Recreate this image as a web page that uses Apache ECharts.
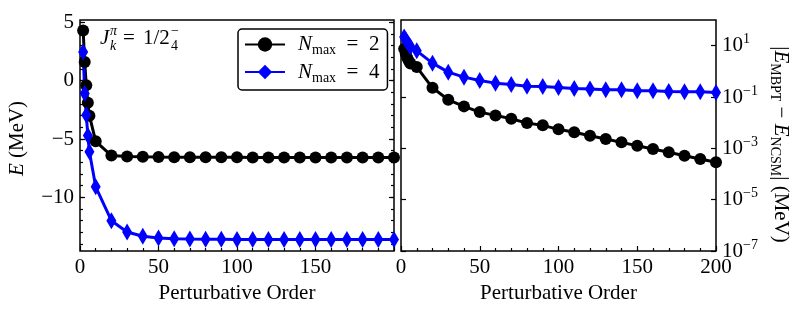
<!DOCTYPE html>
<html><head><meta charset="utf-8">
<script src="https://cdn.jsdelivr.net/npm/echarts@6/dist/echarts.min.js"></script>
<style>html,body{margin:0;padding:0;background:#fff}#c{width:797px;height:313px}</style>
</head><body><div id="c"></div>
<script>
// ---- data ----
const orders = [2,3,4,5,6,10,20,30,40,50,60,70,80,90,100,110,120,130,140,150,160,170,180,190,200];
const energyNmax2 = [4.3,1.6,-0.4,-1.9,-3.0,-5.2,-6.42,-6.5,-6.53,-6.55,-6.56,-6.56,-6.57,-6.57,-6.57,-6.58,-6.58,-6.58,-6.58,-6.58,-6.58,-6.58,-6.58,-6.58,-6.58];
const energyNmax4 = [2.45,-1.1,-2.95,-4.7,-6.1,-9.1,-12.0,-12.97,-13.34,-13.48,-13.54,-13.57,-13.59,-13.6,-13.61,-13.61,-13.62,-13.62,-13.62,-13.62,-13.62,-13.62,-13.62,-13.62,-13.62];
const diffNmax2 = [7.5,5.0,3.3,2.5,2.0,1.46,0.228,0.0778,0.0431,0.0258,0.0192,0.0142,0.00964,0.00785,0.0055,0.0042,0.0031,0.0023,0.00171,0.00126,0.00094,0.000698,0.000515,0.000384,0.000285];
const diffNmax4 = [22,17,13.7,11,9,6.3,2.08,0.93,0.594,0.442,0.347,0.309,0.265,0.258,0.232,0.216,0.203,0.19,0.19,0.174,0.174,0.165,0.159,0.159,0.151];
const nmaxValues = [2,4];
const energyTicks = [-10,-5,0,5];
const energyMinorTicks = [-14,-13,-12,-11,-10,-9,-8,-7,-6,-5,-4,-3,-2,-1,0,1,2,3,4,5];
const orderTicksLeft = [0,50,100,150];
const orderTicksRight = [0,50,100,150,200];
const diffTicks = [1e-7,1e-5,1e-3,1e-1,1e1];

// ---- styles ----
const F = 'Liberation Serif';
const FS = 21;
const rich = {
  r: {fontFamily:F, fontSize:FS, lineHeight:26, color:'#000'},
  i: {fontFamily:F, fontSize:FS, fontStyle:'italic', lineHeight:26, color:'#000'},
  li: {fontFamily:F, fontSize:FS, fontStyle:'italic', lineHeight:26, color:'#000', padding:[0,0,0,8]},
  s: {fontFamily:F, fontSize:14, lineHeight:12, verticalAlign:'bottom', color:'#000'},
  p: {fontFamily:F, fontSize:14, lineHeight:12, verticalAlign:'top', color:'#000'}
};
const minus = v => String(v).replace('-', '\u2212');
const names = nmaxValues.map(v => 'Nmax = ' + v);
const colors = ['#000000', '#0000ff'];
const pairs = (xs, ys) => xs.map((x, k) => [x, ys[k]]);
const circleSize = 12;
const diamondSize = [10, 17];

const tickStyle = {color:'#000', width:1.2};
const noLine = {show: false, onZero: false};
function yAxisBase(grid, pos, extra) {
  return Object.assign({
    gridIndex: grid, type: 'value', position: pos, min: -14.6, max: 5.2,
    axisLine: noLine, splitLine: {show: false},
    axisLabel: {show: false}, axisTick: {show: false}
  }, extra);
}
function xAxisBase(grid, labels) {
  return {gridIndex: grid, type: 'value', position: 'bottom', min: 0, max: 200, interval: 50,
     axisLine: noLine, splitLine: {show: false},
     axisTick: {show: true, inside: true, length: 5, lineStyle: tickStyle},
     minorTick: {show: true, splitNumber: 5, length: 3, lineStyle: tickStyle},
     axisLabel: {customValues: labels, margin: 6, fontFamily: F, fontSize: FS, color: '#000'},
     name: 'Perturbative Order', nameLocation: 'middle', nameGap: 28,
     nameTextStyle: {fontFamily: F, fontSize: FS, color: '#000'}};
}
function logAxis(pos, extra) {
  return Object.assign({gridIndex: 1, type: 'log', logBase: 10, position: pos, min: 1e-7, max: 1e2,
     axisLine: noLine, splitLine: {show: false}, axisLabel: {show: false},
     axisTick: {show: true, inside: true, length: 5, interval: 0, customValues: diffTicks, lineStyle: tickStyle}}, extra);
}

const option = {
  animation: false,
  backgroundColor: '#fff',
  grid: [
    {left: 80, top: 20, width: 314, height: 231, show: true, borderColor: '#000', borderWidth: 1.5, backgroundColor: 'transparent'},
    {left: 401, top: 20, width: 315, height: 231, show: true, borderColor: '#000', borderWidth: 1.5, backgroundColor: 'transparent'}
  ],
  legend: {
    data: names, orient: 'vertical', left: 238, top: 29,
    padding: [5, 8, 5, 6], itemGap: 4, itemWidth: 40, itemHeight: 18,
    borderColor: '#000', borderWidth: 1.5, borderRadius: 4, backgroundColor: '#fff',
    textStyle: {rich: rich},
    formatter: n => '{li|N}{s|max}{r|  =  ' + n.split('= ')[1] + '}'
  },
  xAxis: [xAxisBase(0, orderTicksLeft), xAxisBase(1, orderTicksRight)],
  yAxis: [
    yAxisBase(0, 'left', {
      axisLabel: {show: true, customValues: energyTicks, formatter: minus, margin: 6, fontFamily: F, fontSize: FS, color: '#000'},
      axisTick: {show: true, inside: true, length: 5, customValues: energyTicks, lineStyle: tickStyle},
      name: '{i|E}{r| (MeV)}', nameLocation: 'middle', nameGap: 50, nameRotate: 90,
      nameTextStyle: {rich: rich, padding: [0, 6, 0, 0]}
    }),
    yAxisBase(0, 'left', {axisTick: {show: true, inside: true, length: 3, customValues: energyMinorTicks, lineStyle: tickStyle}}),
    yAxisBase(0, 'right', {axisTick: {show: true, inside: true, length: 5, customValues: energyTicks, lineStyle: tickStyle}}),
    yAxisBase(0, 'right', {axisTick: {show: true, inside: true, length: 3, customValues: energyMinorTicks, lineStyle: tickStyle}}),
    logAxis('right', {
      axisLabel: {show: true, customValues: diffTicks, margin: 6, rich: rich,
        formatter: v => '{r|10}{p|' + minus(Math.round(Math.log10(v))) + '}'},
      name: '{r||}{i|E}{s|MBPT}{r| \u2212 }{i|E}{s|NCSM}{r|| (MeV)}', nameLocation: 'middle', nameGap: 52, nameRotate: -90,
      nameTextStyle: {rich: rich, padding: [0, 0, 0, 18]}
    }),
    logAxis('left', {})
  ],
  graphic: [
    {type: 'text', left: 100, top: 28, style: {text: 'J', font: 'italic 21px "Liberation Serif"', fill: '#000'}},
    {type: 'text', left: 110, top: 24, style: {text: '\u03c0', font: 'italic 14px "Liberation Serif"', fill: '#000'}},
    {type: 'text', left: 110, top: 39, style: {text: 'k', font: 'italic 14px "Liberation Serif"', fill: '#000'}},
    {type: 'text', left: 123, top: 28, style: {text: '=', font: '21px "Liberation Serif"', fill: '#000'}},
    {type: 'text', left: 143, top: 28, style: {text: '1/2', font: '21px "Liberation Serif"', fill: '#000'}},
    {type: 'text', left: 171, top: 24, style: {text: '\u2212', font: '14px "Liberation Serif"', fill: '#000'}},
    {type: 'text', left: 171, top: 39, style: {text: '4', font: '14px "Liberation Serif"', fill: '#000'}}
  ],
  series: [
    {name: names[0], type: 'line', xAxisIndex: 0, yAxisIndex: 0, data: pairs(orders, energyNmax2),
     symbol: 'circle', symbolSize: circleSize, showAllSymbol: true, color: colors[0],
     lineStyle: {color: colors[0], width: 3}, itemStyle: {color: colors[0]}},
    {name: names[1], type: 'line', xAxisIndex: 0, yAxisIndex: 0, data: pairs(orders, energyNmax4),
     symbol: 'diamond', symbolSize: diamondSize, showAllSymbol: true, color: colors[1],
     lineStyle: {color: colors[1], width: 3}, itemStyle: {color: colors[1]}},
    {name: names[0], type: 'line', xAxisIndex: 1, yAxisIndex: 4, data: pairs(orders, diffNmax2),
     symbol: 'circle', symbolSize: circleSize, showAllSymbol: true, color: colors[0],
     lineStyle: {color: colors[0], width: 3}, itemStyle: {color: colors[0]}},
    {name: names[1], type: 'line', xAxisIndex: 1, yAxisIndex: 4, data: pairs(orders, diffNmax4),
     symbol: 'diamond', symbolSize: diamondSize, showAllSymbol: true, color: colors[1],
     lineStyle: {color: colors[1], width: 3}, itemStyle: {color: colors[1]}}
  ]
};
const chart = echarts.init(document.getElementById('c'), null, {renderer: 'canvas'});
chart.setOption(option);
</script></body></html>
